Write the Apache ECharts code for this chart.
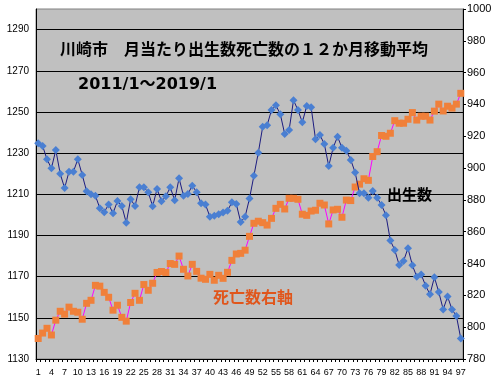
<!DOCTYPE html>
<html><head><meta charset="utf-8">
<script src="https://cdn.jsdelivr.net/npm/echarts@6/dist/echarts.min.js"></script>
<style>html,body{margin:0;padding:0;background:#fff}#c{width:501px;height:382px}</style>
</head><body><div id="c"></div>
<script>
const categories = Array.from({length: 97}, (_, i) => String(i + 1));
const births = [1234.8,1233.5,1227,1222.6,1231.5,1220,1213,1221,1221,1227,1219.4,1211.5,1210,1209.3,1203.2,1201.3,1205.1,1200.8,1206.7,1204.3,1196.2,1207.6,1204.3,1213.4,1213.4,1211,1204.2,1212.6,1206.6,1209,1213.4,1207.1,1217.8,1209.3,1210.1,1214.2,1211,1205.6,1205.1,1199.1,1199.6,1200.3,1201.1,1202,1206.1,1205.3,1196.5,1199.1,1208,1219,1230.2,1242.8,1243.5,1250.9,1253.2,1248.9,1239.3,1241.2,1255.7,1250.9,1245,1252.9,1252.3,1236.7,1238.8,1234.4,1223.7,1232.6,1238,1232.6,1231.2,1226.7,1220.6,1210.5,1210.5,1208.3,1211.6,1208.3,1204.8,1199.8,1187.5,1182.9,1175.7,1177.6,1183.8,1175.5,1170,1171.1,1165.6,1161.4,1169.7,1162.5,1154.1,1160.3,1154.1,1150.9,1139.9];
const deaths = [792.9,796.3,799.3,795.1,804.4,810,808.2,812.6,810,809.4,805,815,816.9,826.3,825.8,821.9,818.8,810.7,813.8,806.2,803.8,815.5,821.3,816.9,826.8,823.2,827.6,834.4,835,834.4,840,839.5,844.7,836.4,832.2,839.5,835.1,830.8,830.1,833.2,829.5,832.6,830.7,834.5,842,846,846.4,848.4,857.1,865.3,866.6,865.7,864.2,868.4,874.7,877.2,874.3,881,881,880.4,871,870.3,873,873.5,877.9,876.8,864.9,873.7,874.1,869.1,879.9,879.6,888.1,889.9,893.3,892.3,907.3,910.3,920.5,920,921.9,929.8,928.2,928.2,930.7,934.9,930.2,932.6,932.6,930.2,935.8,940.2,935.9,938.9,937.7,940.2,947];
const titleText = '川崎市　月当たり出生数死亡数の１２か月移動平均';
const periodText = '2011/1～2019/1';
const birthsLabel = '出生数';
const deathsLabel = '死亡数右軸';

const chart = echarts.init(document.getElementById('c'), null, {renderer: 'canvas'});
const plain = v => String(v);
chart.setOption({
  animation: false,
  backgroundColor: '#fff',
  grid: {left: 36, right: 38, top: 9, bottom: 23, show: true, backgroundColor: '#c0c0c0', borderColor: '#808080', borderWidth: 1},
  xAxis: {
    type: 'category', data: categories, boundaryGap: true,
    axisLine: {lineStyle: {color: '#000', width: 1}},
    axisTick: {show: true, interval: 0, length: 3, lineStyle: {color: '#000'}},
    axisLabel: {interval: 2, margin: 9, hideOverlap: false, fontFamily: 'Liberation Sans', fontSize: 9, color: '#000'},
    splitLine: {show: false}
  },
  yAxis: [{
    type: 'value', min: 1130, max: 1300, interval: 20, position: 'left',
    axisLine: {show: true, lineStyle: {color: '#000'}},
    axisTick: {show: false},
    axisLabel: {margin: 7, showMaxLabel: false, formatter: plain, fontFamily: 'Liberation Sans', fontSize: 10, color: '#000'},
    splitLine: {show: true, showMaxLine: false, showMinLine: false, lineStyle: {color: '#000', width: 1}}
  }, {
    type: 'value', min: 780, max: 1000, interval: 20, position: 'right',
    axisLine: {show: true, lineStyle: {color: '#000'}},
    axisTick: {show: true, length: 3, lineStyle: {color: '#000'}},
    axisLabel: {margin: 4, formatter: plain, fontFamily: 'Liberation Sans', fontSize: 11, color: '#000'},
    splitLine: {show: false}
  }],
  series: [{
    name: '死亡数', type: 'line', yAxisIndex: 1, data: deaths,
    symbol: 'rect', symbolSize: 7, showAllSymbol: true,
    lineStyle: {color: '#ff00ff', width: 1},
    itemStyle: {color: '#f0803a'}, z: 2
  }, {
    name: '出生数', type: 'line', yAxisIndex: 0, data: births,
    symbol: 'diamond', symbolSize: 8, showAllSymbol: true,
    lineStyle: {color: '#1c1c80', width: 1},
    itemStyle: {color: '#4a7fd2'}, z: 3
  }],
  graphic: [
    {type: 'text', left: 60, top: 41, z: 10, style: {text: titleText, font: 'bold 16px "Noto Sans CJK JP"', fill: '#000'}},
    {type: 'text', left: 78, top: 77, z: 10, style: {text: periodText, font: 'bold 16px "DejaVu Sans", "Noto Sans CJK JP"', fill: '#000'}},
    {type: 'text', left: 387, top: 187, z: 10, style: {text: birthsLabel, font: 'bold 15px "Noto Sans CJK JP"', fill: '#000'}},
    {type: 'text', left: 213, top: 289, z: 10, style: {text: deathsLabel, font: 'bold 16px "Noto Sans CJK JP"', fill: '#e0561c'}}
  ]
});
</script></body></html>
